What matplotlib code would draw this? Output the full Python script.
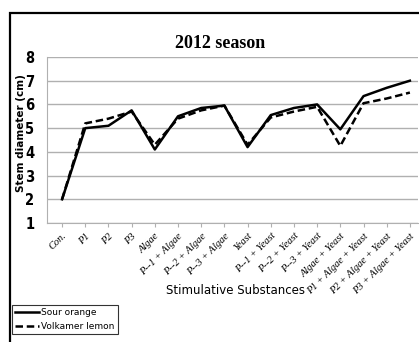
import matplotlib
matplotlib.use("Agg")
import matplotlib.pyplot as plt
from matplotlib.patches import Rectangle
from matplotlib.lines import Line2D

categories = ["Con.", "P1", "P2", "P3", "Algae", "P--1 + Algae", "P--2 + Algae",
              "P--3 + Algae", "Yeast", "P--1 + Yeast", "P--2 + Yeast", "P--3 + Yeast",
              "Algae + Yeast", "P1 + Algae + Yeast", "P2 + Algae + Yeast", "P3 + Algae + Yeast"]
sour_orange = [2.0, 5.0, 5.1, 5.75, 4.1, 5.5, 5.85, 5.95, 4.2, 5.55, 5.85, 6.0, 4.95, 6.35, 6.7, 7.0]
volkamer_lemon = [2.0, 5.2, 5.4, 5.7, 4.3, 5.4, 5.75, 5.95, 4.3, 5.45, 5.7, 5.9, 4.25, 6.05, 6.25, 6.5]
yticks = [1, 2, 3, 4, 5, 6, 7, 8]

W, H = 419, 342
fig = plt.figure(figsize=(W / 100, H / 100), dpi=100)
fig.patch.set_facecolor("white")

# outer frame
fig.patches.append(Rectangle((10 / W, -0.05), 1.2, 1 - 13 / H + 0.05, transform=fig.transFigure,
                             fill=False, edgecolor="black", linewidth=1.6))

ax = fig.add_axes([47 / W, 1 - 223 / H, (418 - 47) / W, (223 - 57) / H])
x = list(range(len(categories)))
ax.plot(x, sour_orange, color="black", linewidth=1.8, label="Sour orange")
ax.plot(x, volkamer_lemon, color="black", linewidth=1.8, linestyle=(0, (3, 1.5)), label="Volkamer lemon")

ax.set_xlim(-0.65, 15.35)
ax.set_ylim(1, 8)
ax.set_yticks(yticks)
ax.set_yticklabels([str(v) for v in yticks], fontsize=10.5, fontweight="bold",
                   family="DejaVu Sans", stretch="condensed")
ax.set_xticks(x)
ax.set_xticklabels(categories, rotation=45, ha="right", rotation_mode="anchor",
                   fontsize=7.5, fontstyle="italic", family="Liberation Serif")
ax.grid(axis="y", color="#b0b0b0", linewidth=1.0)
ax.set_axisbelow(True)
for s in ["top", "right"]:
    ax.spines[s].set_visible(False)
for s in ["left", "bottom"]:
    ax.spines[s].set_color("#b0b0b0")
ax.tick_params(axis="y", length=0, pad=9)
ax.tick_params(axis="x", length=3, color="#b0b0b0", pad=3)

fig.text(220 / W, 1 - 43 / H, "2012 season", ha="center", va="center", fontsize=13,
         fontweight="bold", family="Liberation Serif")
fig.text(21 / W, 1 - 133 / H, "Stem diameter (cm)", rotation=90, ha="center", va="center",
         fontsize=7.5, fontweight="bold", family="DejaVu Sans")
fig.text(235 / W, 1 - 290 / H, "Stimulative Substances", ha="center", va="center",
         fontsize=8.5, family="DejaVu Sans")

handles = [Line2D([], [], color="black", linewidth=1.8),
           Line2D([], [], color="black", linewidth=1.8, linestyle=(0, (3, 1.5)))]
leg = fig.legend(handles, ["Sour orange", "Volkamer lemon"], loc="upper left",
                 bbox_to_anchor=(12 / W, 1 - 305 / H), fontsize=6.5, frameon=True,
                 fancybox=False, edgecolor="black", handlelength=2.6, handletextpad=0.3,
                 borderpad=0.35, labelspacing=0.5, borderaxespad=0)
leg.get_frame().set_linewidth(0.8)

fig.savefig("out.png", dpi=100)
